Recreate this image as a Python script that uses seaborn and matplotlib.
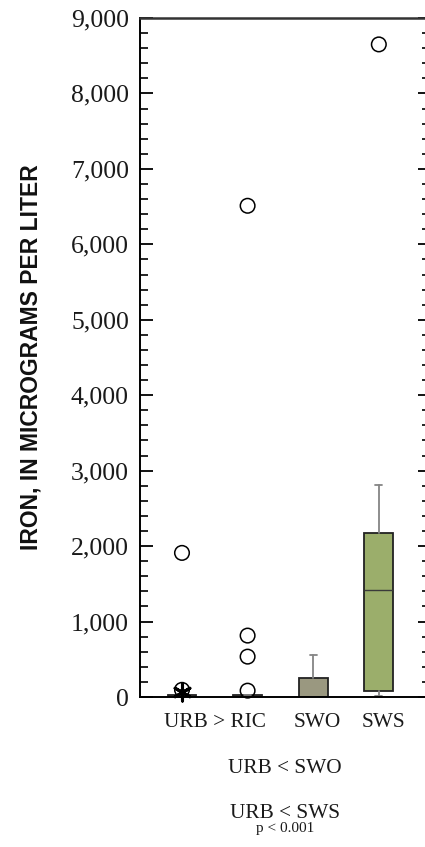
import matplotlib
matplotlib.use("Agg")
import matplotlib.pyplot as plt
import pandas as pd
import seaborn as sns
from matplotlib.ticker import MultipleLocator, FuncFormatter

# Summary statistics of dissolved iron, micrograms per liter
groups = ["URB", "RIC", "SWO", "SWS"]
whisker_low = [0, 0, 0, 8]
q1 = [0, 0, 0, 84]
median = [10, 8, 5, 1412]
q3 = [30, 30, 252, 2180]
whisker_high = [30, 30, 552, 2806]
box_colors = ["#6f5d4b", "#6f5d4b", "#9a9880", "#9bae6b"]

# Outside values drawn as open circles
outlier_group = ["URB", "URB", "RIC", "RIC", "RIC", "RIC", "SWS"]
outlier_value = [95, 1910, 84, 535, 814, 6511, 8650]

# Far-outside value drawn as an asterisk
far_group = ["URB"]
far_value = [60]

# Pairwise test results shown below the axis
pair_labels = ["URB > RIC", "SWO", "SWS"]
pair_label_x = [0.5, 2.06, 3.07]
extra_tests = ["URB < SWO", "URB < SWS"]
p_note = "p < 0.001"

y_ticks = list(range(0, 9001, 1000))

sns.set_theme(style="ticks")
plt.rcParams["font.family"] = ["Liberation Serif", "DejaVu Serif"]

W, H = 425, 847
fig = plt.figure(figsize=(W / 100, H / 100), dpi=100)
ax = fig.add_axes([140 / W, 1 - 697 / H, 290 / W, 679 / H])

pos = {g: i for i, g in enumerate(groups)}
stats = []
for i, g in enumerate(groups):
    stats.append(dict(label=g, whislo=whisker_low[i], q1=q1[i], med=median[i],
                      q3=q3[i], whishi=whisker_high[i], fliers=[]))

bp = ax.bxp(stats, positions=list(range(len(groups))), widths=0.44,
            capwidths=0.11, patch_artist=True, showfliers=False,
            boxprops=dict(edgecolor="#222222", linewidth=1.3),
            whiskerprops=dict(color="#858585", linewidth=1.3),
            capprops=dict(color="#858585", linewidth=1.3),
            medianprops=dict(color="#3a3a3a", linewidth=1.0))
for patch, c in zip(bp["boxes"], box_colors):
    patch.set_facecolor(c)

out_df = pd.DataFrame({"x": [pos[g] for g in outlier_group], "iron": outlier_value})
sns.scatterplot(data=out_df, x="x", y="iron", ax=ax, marker="o", s=110,
                facecolors="none", edgecolors="black", linewidths=1.1,
                legend=False, clip_on=False, zorder=5)

far_df = pd.DataFrame({"x": [pos[g] for g in far_group], "iron": far_value})
sns.scatterplot(data=far_df, x="x", y="iron", ax=ax, marker=(6, 2, 0), s=150,
                color="black", linewidth=2.2, legend=False, clip_on=False, zorder=6)

ax.set_xlim(-0.64, 3.78)
ax.set_ylim(0, 9000)
ax.set_xticks([])
ax.set_xlabel("")
ax.set_yticks(y_ticks)
ax.yaxis.set_minor_locator(MultipleLocator(200))
ax.yaxis.set_major_formatter(FuncFormatter(lambda v, p: f"{int(v):,}"))
ax.tick_params(axis="y", which="major", direction="in", length=9, width=1.3,
               left=True, right=True, labelsize=18.5, pad=8.0, color="black")
ax.tick_params(axis="y", which="minor", direction="in", length=5.5, width=1.2,
               left=True, right=True, color="black")
for lab in ax.get_yticklabels():
    lab.set_fontfamily("Liberation Serif")
    lab.set_color("#1a1a1a")

for side in ["left", "bottom"]:
    ax.spines[side].set_linewidth(1.4)
    ax.spines[side].set_color("black")
ax.spines["top"].set_linewidth(1.8)
ax.spines["top"].set_color("#333333")
ax.spines["right"].set_color("black")

ax.set_ylabel("IRON, IN MICROGRAMS PER LITER", fontsize=16.5,
              fontfamily="Liberation Sans", fontweight="bold", color="#111111")
ax.yaxis.set_label_coords(-0.335, 0.5)

for lab, x in zip(pair_labels, pair_label_x):
    ax.text(x, -0.044, lab, transform=ax.get_xaxis_transform(), ha="center",
            va="baseline", fontsize=15.3, color="#1a1a1a")

fig.text(285 / W, 1 - 773 / H, extra_tests[0], ha="center", va="baseline",
         fontsize=15.3, color="#1a1a1a")
fig.text(285 / W, 1 - 818 / H, extra_tests[1], ha="center", va="baseline",
         fontsize=15.3, color="#1a1a1a")
fig.text(285 / W, 1 - 832 / H, p_note, ha="center", va="baseline",
         fontsize=11, color="#1a1a1a")

fig.savefig("out.png", dpi=100)
